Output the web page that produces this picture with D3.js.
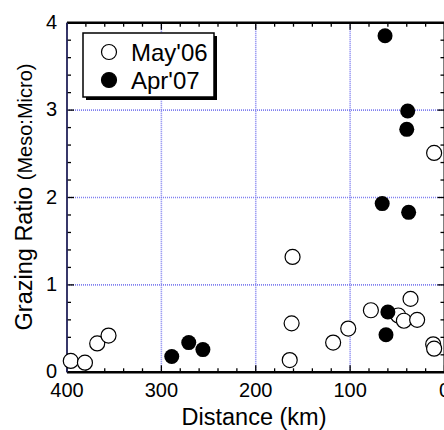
<!DOCTYPE html>
<html>
<head>
<meta charset="utf-8">
<script src="https://cdn.jsdelivr.net/npm/d3@7"></script>
<style>
  body { margin: 0; background: #fff; }
  svg { display: block; font-family: "Liberation Sans", Arial, sans-serif; }
</style>
</head>
<body>
<div id="chart"></div>
<script>
// distance (km) and grazing ratio
const mayDist  = [396, 381, 368, 356, 161, 162, 164, 118, 102, 78, 49, 43, 36, 29, 12, 11, 11];
const mayRatio = [0.13, 0.11, 0.33, 0.42, 1.32, 0.56, 0.14, 0.34, 0.50, 0.71, 0.65, 0.59, 0.84, 0.60, 0.32, 0.27, 2.51];
const aprDist  = [289, 271, 256, 60, 62, 63, 39, 40, 66, 38];
const aprRatio = [0.18, 0.34, 0.26, 0.69, 0.43, 3.85, 2.99, 2.78, 1.93, 1.83];

const xTicks = [400, 300, 200, 100, 0];
const yTicks = [0, 1, 2, 3, 4];
const seriesNames = ["May'06", "Apr'07"];

const width = 444, height = 430;
const svg = d3.select("#chart").append("svg")
  .attr("width", width)
  .attr("height", height);

// plot frame - right side runs off the page like the original
const x = d3.scaleLinear().domain([400, 0]).range([67, 444.5]);
const y = d3.scaleLinear().domain([0, 4]).range([372.3, 22.7]);

// grid lines (dotted blue)
const grid = svg.append("g");
grid.selectAll(".gx")
  .data([300, 200, 100])
  .enter().append("line")
    .attr("x1", d => x(d)).attr("x2", d => x(d))
    .attr("y1", y(4)).attr("y2", y(0))
    .style("stroke", "#8080f0")
    .style("stroke-width", 1.6)
    .style("stroke-dasharray", "1,1");
grid.selectAll(".gy")
  .data([1, 2, 3])
  .enter().append("line")
    .attr("x1", x(400)).attr("x2", x(0))
    .attr("y1", d => y(d)).attr("y2", d => y(d))
    .style("stroke", "#8080f0")
    .style("stroke-width", 1.6)
    .style("stroke-dasharray", "1,1");

// minor + major ticks, pointing inward
const xMinor = d3.range(0, 401, 20);
const yMinor = d3.range(0, 4.01, 0.2);
const ticks = svg.append("g").style("stroke", "#000").style("stroke-width", 1.3);
// bottom & top
ticks.selectAll(".tb").data(xMinor).enter().append("line")
  .attr("x1", d => x(d)).attr("x2", d => x(d))
  .attr("y1", y(0)).attr("y2", d => y(0) - (d % 100 === 0 ? 7 : 4));
ticks.selectAll(".tt").data(xMinor).enter().append("line")
  .attr("x1", d => x(d)).attr("x2", d => x(d))
  .attr("y1", y(4)).attr("y2", d => y(4) + (d % 100 === 0 ? 7 : 4));
// left & right
ticks.selectAll(".tl").data(yMinor).enter().append("line")
  .attr("y1", d => y(d)).attr("y2", d => y(d))
  .attr("x1", x(400)).attr("x2", d => x(400) + (Math.abs(d - Math.round(d)) < 0.01 ? 7 : 4));
ticks.selectAll(".tr").data(yMinor).enter().append("line")
  .attr("y1", d => y(d)).attr("y2", d => y(d))
  .attr("x1", x(0)).attr("x2", d => x(0) - (Math.abs(d - Math.round(d)) < 0.01 ? 7 : 4));

// frame
svg.append("line")
  .attr("x1", x(400)).attr("x2", x(0)).attr("y1", y(0)).attr("y2", y(0))
  .style("stroke", "#000").style("stroke-width", 2.5);
svg.append("line")
  .attr("x1", x(400)).attr("x2", x(0)).attr("y1", y(4)).attr("y2", y(4))
  .style("stroke", "#000").style("stroke-width", 2.5);
svg.append("line")
  .attr("x1", x(400)).attr("x2", x(400)).attr("y1", y(4)).attr("y2", y(0))
  .style("stroke", "#22225a").style("stroke-width", 1.8);
svg.append("line")
  .attr("x1", x(0)).attr("x2", x(0)).attr("y1", y(4)).attr("y2", y(0))
  .style("stroke", "#000").style("stroke-width", 2);

// tick labels
svg.append("g").selectAll("text")
  .data(xTicks).enter().append("text")
    .attr("x", d => x(d))
    .attr("y", 397)
    .attr("text-anchor", "middle")
    .style("font-size", "20px")
    .text(d => d);
svg.append("g").selectAll("text")
  .data(yTicks).enter().append("text")
    .attr("x", 57)
    .attr("y", d => y(d) + 6)
    .attr("text-anchor", "end")
    .style("font-size", "20px")
    .text(d => d);

// axis titles
svg.append("text")
  .attr("x", 254)
  .attr("y", 425)
  .attr("text-anchor", "middle")
  .style("font-size", "23.5px")
  .text("Distance (km)");

const yTitle = svg.append("text")
  .attr("transform", "translate(32,197) rotate(-90)")
  .attr("text-anchor", "middle")
  .style("font-size", "23.5px");
yTitle.append("tspan").text("Grazing Ratio ");
yTitle.append("tspan").style("font-size", "20px").text("(Meso:Micro)");

// points
svg.append("g").selectAll("circle")
  .data(mayDist.map((d, i) => [d, mayRatio[i]]))
  .enter().append("circle")
    .attr("cx", d => x(d[0]))
    .attr("cy", d => y(d[1]))
    .attr("r", 7.5)
    .style("fill", "#fff")
    .style("stroke", "#000")
    .style("stroke-width", 1.2);
svg.append("g").selectAll("circle")
  .data(aprDist.map((d, i) => [d, aprRatio[i]]))
  .enter().append("circle")
    .attr("cx", d => x(d[0]))
    .attr("cy", d => y(d[1]))
    .attr("r", 7.5)
    .style("fill", "#000");

// legend with drop shadow
const lg = svg.append("g");
lg.append("rect")
  .attr("x", 86).attr("y", 36).attr("width", 131).attr("height", 64)
  .style("fill", "#000");
lg.append("rect")
  .attr("x", 83).attr("y", 33).attr("width", 131).attr("height", 64)
  .style("fill", "#fff").style("stroke", "#000").style("stroke-width", 1.5);
seriesNames.forEach((name, i) => {
  const cy = 52 + i * 28;
  lg.append("circle")
    .attr("cx", 109).attr("cy", cy).attr("r", 7.5)
    .style("fill", i === 0 ? "#fff" : "#000")
    .style("stroke", "#000").style("stroke-width", 1.2);
  lg.append("text")
    .attr("x", 131).attr("y", cy + 8.5)
    .style("font-size", "24px")
    .text(name);
});
</script>
</body>
</html>
